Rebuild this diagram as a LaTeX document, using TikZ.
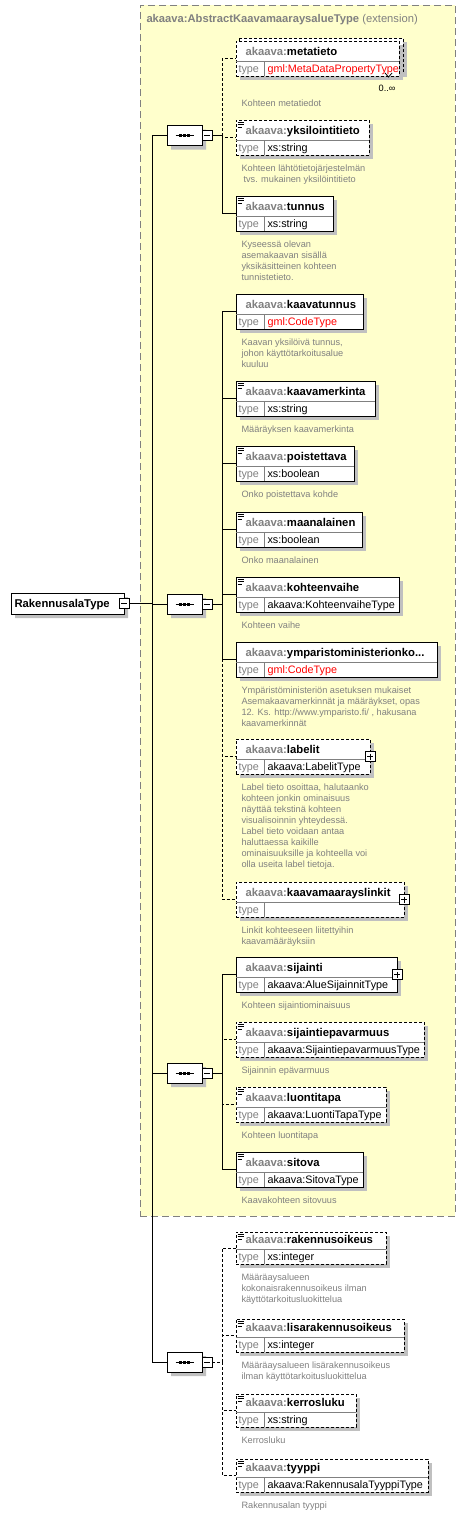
\documentclass[tikz,border=0pt]{standalone}
\usepackage{fontspec}
\setmainfont{Liberation Sans}
\usetikzlibrary{shapes.misc,shadows}

\definecolor{xsdyellow}{HTML}{FFFFCC}
\definecolor{xsdgray}{HTML}{808080}
\definecolor{xsdshadow}{HTML}{C0C0C0}
\definecolor{xsdred}{HTML}{FF0000}

\tikzset{
  optline/.style={dash pattern=on 3pt off 2pt},
  reqline/.style={solid},
  xsdshade/.style={drop shadow={shadow xshift=4pt,shadow yshift=-4pt,fill=xsdshadow,opacity=1}},
  elembox/.style={draw,fill=white,inner sep=0pt,outer sep=0pt,xsdshade},
  seqbox/.style={chamfered rectangle,chamfered rectangle xsep=5pt,chamfered rectangle ysep=5pt,
    draw,fill=white,inner sep=0pt,outer sep=0pt,minimum width=35pt,minimum height=20pt,xsdshade},
  rootbox/.style={chamfered rectangle,chamfered rectangle xsep=3pt,chamfered rectangle ysep=3pt,
    draw,fill=white,inner sep=0pt,outer sep=0pt,minimum width=113pt,minimum height=21pt,xsdshade},
  pmbox/.style={draw,fill=white,inner sep=0pt,outer sep=0pt,minimum size=10pt},
  extbox/.style={draw=xsdgray,fill=xsdyellow,dash pattern=on 7pt off 4pt,inner sep=0pt,outer sep=0pt},
  namelabel/.style={anchor=base west,inner sep=0pt,font=\fontsize{11.3}{13}\selectfont\bfseries},
  typelabel/.style={anchor=base west,inner sep=0pt,font=\fontsize{10.8}{13}\selectfont},
  desclabel/.style={anchor=north west,inner sep=0pt,align=left,text=xsdgray,
    font=\fontsize{9.2}{11}\selectfont},
}

% element box: name, top, width, height, line, label, type, description, gap
\newcommand\xsdelement[9]{%
  \node[elembox,#5,minimum width=#3pt,minimum height=#4pt,anchor=north west] (#1) at (236,#2) {};
  \draw[xsdgray] ([yshift=15pt]#1.south west) -- ([yshift=15pt]#1.south east);
  \draw[xsdgray] ([shift={(28pt,15pt)}]#1.south west) -- ([xshift=28pt]#1.south west);
  \node[namelabel] (#1-n) at ([shift={(9pt,21pt)}]#1.south west) {\textcolor{xsdgray}{akaava:}#6};
  \node[typelabel,text=xsdgray] (#1-t) at ([shift={(2pt,4pt)}]#1.south west) {type};
  \node[typelabel] (#1-v) at ([shift={(31pt,4pt)}]#1.south west) {#7};
  \node[desclabel] (#1-d) at ([shift={(5pt,-#9pt)}]#1.south west) {\rule{0pt}{7.5pt}#8};
}
\newcommand\xsdicon[1]{%
  \foreach \k/\l in {2/6,4.5/6,7/4}
    \draw[line width=0.8pt] ([shift={(1.5pt,-\k pt)}]#1.north west) -- ++(\l,0);
}
\newcommand\xsdplus[1]{%
  \node[pmbox] (#1-p) at (#1.east) {};
  \draw (#1-p.center) +(-3,0) -- +(3,0);
  \draw (#1-p.center) +(0,-3) -- +(0,3);
}
\newcommand\xsdsequence[2]{%
  \node[seqbox] (#1) at (184.5,#2) {};
  \draw ([xshift=-9pt]#1.center) -- ([xshift=9pt]#1.center);
  \foreach \d in {-4,0,4}
    \fill ([xshift=\d pt]#1.center) +(-1.5,-1.5) rectangle +(1.5,1.5);
  \node[pmbox] (#1-m) at ([xshift=5pt]#1.east) {};
  \draw (#1-m.center) +(-3,0) -- +(3,0);
}

\begin{document}
\begin{tikzpicture}[x=1pt,y=-1pt,line width=1pt]
  \fill[white] (0,0) rectangle (468,1515);
  \useasboundingbox (0,0) rectangle (468,1515);

  \node[extbox,minimum width=315pt,minimum height=1211pt,anchor=north west] (ext) at (140,5) {};
  \node[anchor=base west,inner sep=0pt,text=xsdgray,font=\fontsize{11.2}{13}\selectfont] (ext-n)
    at (146,23) {\textbf{akaava:AbstractKaavamaaraysalueType} (extension)};

  \node[rootbox,anchor=north west] (root) at (11,593) {};
  \node[namelabel] (root-n) at ([shift={(3pt,7pt)}]root.south west) {RakennusalaType};
  \node[pmbox] (root-m) at (root.east) {};
  \draw (root-m.center) +(-3,0) -- +(3,0);

  \xsdsequence{seqA}{135.5}
  \xsdsequence{seqB}{604}
  \xsdsequence{seqC}{1073}
  \xsdsequence{seqD}{1362}

  % metatieto, 0..unbounded
  \fill[xsdshadow] (243,42) rectangle (407,77);
  \draw[optline,fill=white] (239,38) rectangle (403,73);
  \xsdelement{metatieto}{41}{163}{35}{optline}{metatieto}{\textcolor{xsdred}{gml:MetaDataPropertyType}}{Kohteen metatiedot}{22.5}
  \draw[line width=0.8pt] (385,73) -- (388.5,77) -- (392,73);
  \node[anchor=base east,inner sep=0pt,font=\fontsize{9.2}{11}\selectfont] (metatieto-m) at (396,91) {0..∞};

  \xsdelement{yksilointitieto}{120}{133}{35}{optline}{yksilointitieto}{xs:string}{Kohteen lähtötietojärjestelmän\\\hspace*{2pt}tvs. mukainen yksilöintitieto}{8.5}
  \xsdicon{yksilointitieto}
  \xsdelement{tunnus}{196}{97}{35}{reqline}{tunnus}{xs:string}{Kyseessä olevan\\asemakaavan sisällä\\yksikäsitteinen kohteen\\tunnistetieto.}{8.5}
  \xsdicon{tunnus}

  \xsdelement{kaavatunnus}{294}{127}{35}{reqline}{kaavatunnus}{\textcolor{xsdred}{gml:CodeType}}{Kaavan yksilöivä tunnus,\\johon käyttötarkoitusalue\\kuuluu}{8.5}
  \xsdelement{kaavamerkinta}{381}{139}{35}{reqline}{kaavamerkinta}{xs:string}{Määräyksen kaavamerkinta}{8.5}
  \xsdicon{kaavamerkinta}
  \xsdelement{poistettava}{446}{118}{35}{reqline}{poistettava}{xs:boolean}{Onko poistettava kohde}{8.5}
  \xsdicon{poistettava}
  \xsdelement{maanalainen}{512}{126}{35}{reqline}{maanalainen}{xs:boolean}{Onko maanalainen}{8.5}
  \xsdicon{maanalainen}
  \xsdelement{kohteenvaihe}{577}{163}{35}{reqline}{kohteenvaihe}{akaava:KohteenvaiheType}{Kohteen vaihe}{8.5}
  \xsdicon{kohteenvaihe}
  \xsdelement{ymparisto}{642}{201}{35}{reqline}{ymparistoministerionko...}{\textcolor{xsdred}{gml:CodeType}}{Ympäristöministeriön asetuksen mukaiset\\Asemakaavamerkinnät ja määräykset, opas\\12. Ks. http://www.ymparisto.fi/ , hakusana\\kaavamerkinnät}{8.5}
  \xsdelement{labelit}{739}{134}{35}{optline}{labelit}{akaava:LabelitType}{Label tieto osoittaa, halutaanko\\kohteen jonkin ominaisuus\\näyttää tekstinä kohteen\\visualisoinnin yhteydessä.\\Label tieto voidaan antaa\\haluttaessa kaikille\\ominaisuuksille ja kohteella voi\\olla useita label tietoja.}{8.5}
  \xsdplus{labelit}
  \xsdelement{kaavamaarayslinkit}{882}{168}{35}{optline}{kaavamaarayslinkit}{}{Linkit kohteeseen liitettyihin\\kaavamääräyksiin}{8.5}
  \xsdplus{kaavamaarayslinkit}

  \xsdelement{sijainti}{957}{161}{35}{reqline}{sijainti}{akaava:AlueSijainnitType}{Kohteen sijaintiominaisuus}{8.5}
  \xsdplus{sijainti}
  \xsdelement{sijaintiepavarmuus}{1022}{188}{35}{optline}{sijaintiepavarmuus}{akaava:SijaintiepavarmuusType}{Sijainnin epävarmuus}{8.5}
  \xsdicon{sijaintiepavarmuus}
  \xsdelement{luontitapa}{1087}{150}{35}{optline}{luontitapa}{akaava:LuontiTapaType}{Kohteen luontitapa}{8.5}
  \xsdicon{luontitapa}
  \xsdelement{sitova}{1152}{127}{35}{reqline}{sitova}{akaava:SitovaType}{Kaavakohteen sitovuus}{8.5}
  \xsdicon{sitova}

  \xsdelement{rakennusoikeus}{1232}{150}{32}{optline}{rakennusoikeus}{xs:integer}{Määräaysalueen\\kokonaisrakennusoikeus ilman\\käyttötarkoitusluokittelua}{8.5}
  \xsdicon{rakennusoikeus}
  \xsdelement{lisarakennusoikeus}{1319}{168}{33}{optline}{lisarakennusoikeus}{xs:integer}{Määräaysalueen lisärakennusoikeus\\ilman käyttötarkoitusluokittelua}{8.5}
  \xsdicon{lisarakennusoikeus}
  \xsdelement{kerrosluku}{1394}{120}{33}{optline}{kerrosluku}{xs:string}{Kerrosluku}{8.5}
  \xsdicon{kerrosluku}
  \xsdelement{tyyppi}{1459}{192}{33}{optline}{tyyppi}{akaava:RakennusalaTyyppiType}{Rakennusalan tyyppi}{8.5}
  \xsdicon{tyyppi}

  % connectors
  \foreach \s in {seqA,seqB,seqC,seqD}
    \draw (root-m.east) -- ++(23,0) |- (\s.west);

  \draw[optline] (seqA-m.east) -- ++(10,0) |- (metatieto.west);
  \draw[optline] (seqA-m.east) -- ++(10,0) |- (yksilointitieto.west);
  \draw (seqA-m.east) -- ++(10,0) |- (tunnus.west);

  \foreach \e in {labelit,kaavamaarayslinkit}
    \draw[optline] (seqB-m.east) -- ++(10,0) |- (\e.west);
  \foreach \e in {kaavatunnus,kaavamerkinta,poistettava,maanalainen,kohteenvaihe,ymparisto}
    \draw (seqB-m.east) -- ++(10,0) |- (\e.west);

  \foreach \e in {sijaintiepavarmuus,luontitapa}
    \draw[optline] (seqC-m.east) -- ++(10,0) |- (\e.west);
  \foreach \e in {sijainti,sitova}
    \draw (seqC-m.east) -- ++(10,0) |- (\e.west);

  \foreach \e in {rakennusoikeus,lisarakennusoikeus,kerrosluku,tyyppi}
    \draw[optline] (seqD-m.east) -- ++(10,0) |- (\e.west);
\end{tikzpicture}
\end{document}
